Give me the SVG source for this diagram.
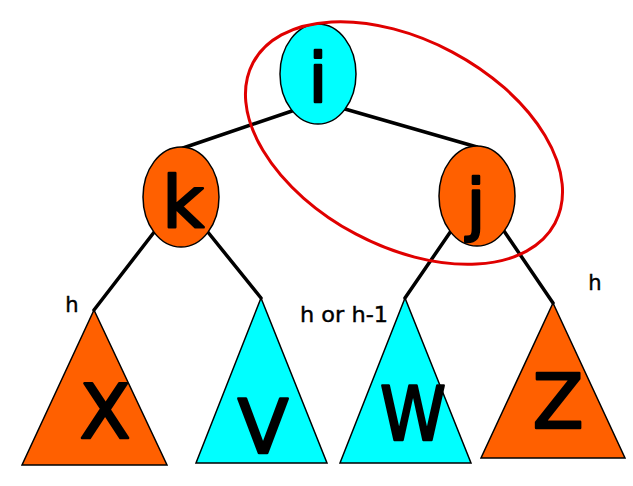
<svg xmlns="http://www.w3.org/2000/svg" width="633" height="486" viewBox="0 0 633 486">
  <style>
    .orange { fill: #FF6000; stroke: #000; stroke-width: 1.5; }
    .cyan { fill: #00FFFF; stroke: #000; stroke-width: 1.5; }
    .edge { stroke: #000; stroke-width: 3.5; fill: none; stroke-linecap: round; }
    .big { font-family: "DejaVu Sans", "Liberation Sans", sans-serif; fill: #000; stroke: #000; stroke-width: 2.5; stroke-linejoin: round; text-anchor: middle; }
    .lbl { font-family: "DejaVu Sans", "Liberation Sans", sans-serif; fill: #000; stroke: #000; stroke-width: 0.4; font-size: 21px; }
  </style>
  <rect width="633" height="486" fill="#fff"/>
  <g id="connectors">
    <line class="edge" x1="292" y1="111" x2="183" y2="148"/>
    <line class="edge" x1="345" y1="109" x2="477" y2="147"/>
    <line class="edge" x1="155" y1="231" x2="94" y2="310"/>
    <line class="edge" x1="207" y1="231" x2="261" y2="298"/>
    <line class="edge" x1="451" y1="231" x2="405" y2="298"/>
    <line class="edge" x1="504" y1="231" x2="553" y2="303"/>
  </g>
  <g id="node-i">
    <ellipse class="cyan" cx="318" cy="74" rx="38" ry="50"/>
    <text class="big" x="318" y="102" font-size="68">i</text>
  </g>
  <g id="node-k">
    <ellipse class="orange" cx="181" cy="197" rx="38" ry="50"/>
    <text class="big" x="183" y="227" font-size="72">k</text>
  </g>
  <g id="node-j">
    <ellipse class="orange" cx="477" cy="196" rx="38" ry="50"/>
    <text class="big" x="476" y="228" font-size="68">j</text>
  </g>
  <g id="tree-X">
    <polygon class="orange" points="94,310 167,465 22,465"/>
    <text class="big" x="105" y="438" font-size="74">X</text>
  </g>
  <g id="tree-V">
    <polygon class="cyan" points="261,298 327,463 196,463"/>
    <text class="big" x="263" y="453" font-size="74">V</text>
  </g>
  <g id="tree-W">
    <polygon class="cyan" points="405,298 471,463 340,463"/>
    <text class="big" x="413" y="440" font-size="74" textLength="66" lengthAdjust="spacingAndGlyphs">W</text>
  </g>
  <g id="tree-Z">
    <polygon class="orange" points="553,303 625,458 481,458"/>
    <text class="big" x="558" y="428" font-size="74">Z</text>
  </g>
  <g id="labels">
    <text class="lbl" x="72" y="312" text-anchor="middle">h</text>
    <text class="lbl" x="300" y="322" textLength="88" lengthAdjust="spacingAndGlyphs">h or h-1</text>
    <text class="lbl" x="595" y="290" text-anchor="middle">h</text>
  </g>
  <g id="highlight">
    <ellipse cx="404" cy="143" rx="171" ry="103" transform="rotate(28 404 143)" fill="none" stroke="#E00000" stroke-width="3"/>
  </g>
</svg>
